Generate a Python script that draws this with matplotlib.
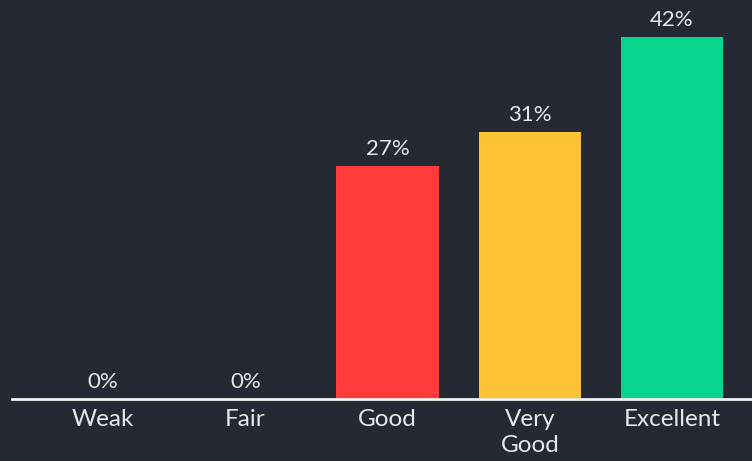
import matplotlib
matplotlib.use("Agg")
import matplotlib.pyplot as plt

categories = ["Weak", "Fair", "Good", "Very\nGood", "Excellent"]
values = [0, 0, 27, 31, 42]
colors = ["#ff3b3b", "#ff3b3b", "#ff3b3b", "#fdc233", "#06d68e"]
value_labels = [f"{v}%" for v in values]

bg = "#252934"
txt = "#e8e8ec"

plt.rcParams['font.family'] = ['Lato', 'DejaVu Sans']

fig = plt.figure(figsize=(7.52, 4.61), dpi=100, facecolor=bg)
ax = fig.add_axes([12/752, (461-399)/461, 1 - 12/752, 399/461])
ax.set_facecolor(bg)

x = list(range(len(categories)))
ax.bar(x, values, width=0.72, color=colors, zorder=2)
ax.set_xlim(-0.64, 4.5625)
ax.set_ylim(0, 46.3)

for xi, v, lab in zip(x, values, value_labels):
    ax.annotate(lab, (xi, v), xytext=(0, 5), textcoords="offset points",
                ha="center", va="bottom", color=txt, fontsize=16)

for s in ["top", "right", "left"]:
    ax.spines[s].set_visible(False)
ax.spines["bottom"].set_color("#f2f2f2")
ax.spines["bottom"].set_linewidth(2)
ax.spines["bottom"].set_zorder(3)
ax.set_yticks([])
ax.set_xticks(x)
ax.set_xticklabels(categories, color=txt, fontsize=17.5, linespacing=1.3)
ax.tick_params(axis="x", length=0, pad=7)

fig.savefig("out.png", dpi=100, facecolor=bg)
